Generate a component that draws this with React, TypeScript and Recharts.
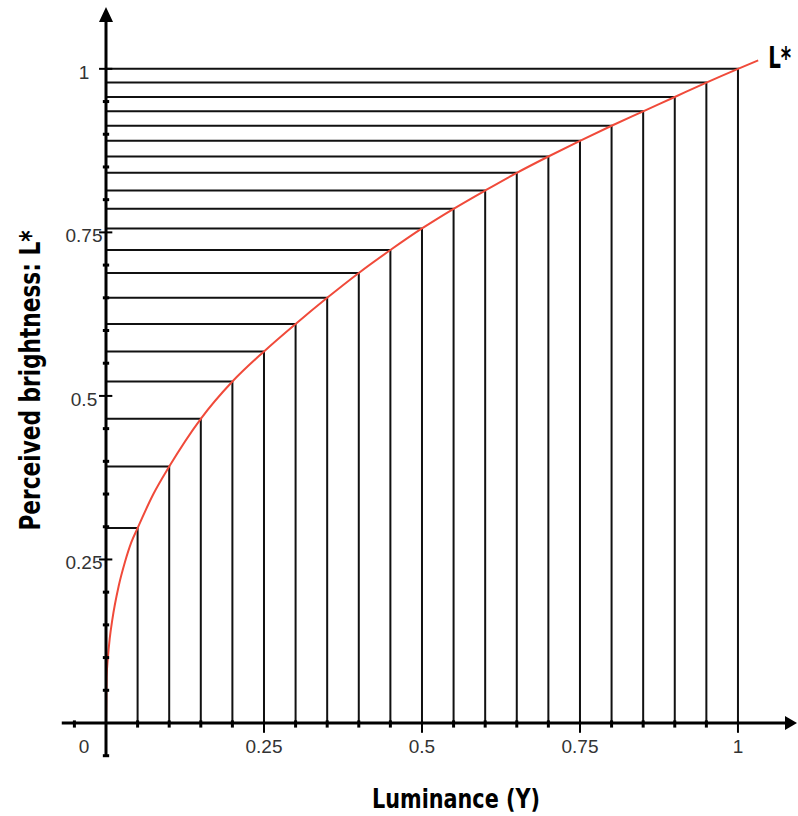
import { LineChart, Line, XAxis, YAxis, ReferenceLine, ReferenceDot, Label } from 'recharts'

const STEP_X = [0.05, 0.1, 0.15, 0.2, 0.25, 0.3, 0.35, 0.4, 0.45, 0.5, 0.55, 0.6, 0.65, 0.7, 0.75, 0.8, 0.85, 0.9, 0.95, 1]
const STEP_Y = [0.298, 0.392, 0.465, 0.522, 0.568, 0.61, 0.65, 0.688, 0.723, 0.756, 0.786, 0.814, 0.841, 0.866, 0.89, 0.913, 0.935, 0.957, 0.979, 1]

// the red L* curve, denser near zero where it rises steeply
const CURVE_X = [0, 0.001, 0.003, 0.006, 0.01, 0.02, 0.03, 0.04, 0.05, 0.075, 0.1, 0.15, 0.2, 0.25, 0.3, 0.35, 0.4, 0.45, 0.5, 0.55, 0.6, 0.65, 0.7, 0.75, 0.8, 0.85, 0.9, 0.95, 1, 1.032]
const CURVE_Y = [0, 0.07, 0.1, 0.13, 0.158, 0.209, 0.246, 0.276, 0.298, 0.35, 0.392, 0.465, 0.522, 0.568, 0.61, 0.65, 0.688, 0.723, 0.756, 0.786, 0.814, 0.841, 0.866, 0.89, 0.913, 0.935, 0.957, 0.979, 1, 1.013]

const X_LABELS = [0, 0.25, 0.5, 0.75, 1]
const Y_LABELS = [0.25, 0.5, 0.75, 1]
const X_MAJOR = [0.25, 0.5, 0.75, 1]
const X_MINOR = [-0.05, 0.05, 0.1, 0.15, 0.2, 0.3, 0.35, 0.4, 0.45, 0.55, 0.6, 0.65, 0.7, 0.8, 0.85, 0.9, 0.95]
const Y_MAJOR = [0.25, 0.5, 0.75, 1]
const Y_MINOR = [-0.05, 0.05, 0.1, 0.15, 0.2, 0.3, 0.35, 0.4, 0.45, 0.55, 0.6, 0.65, 0.7, 0.8, 0.85, 0.9, 0.95]

const X_MAX = 1.095
const Y_MAX = 1.093

const TITLE_FONT = "'Liberation Sans Narrow', 'DejaVu Sans Condensed', 'Liberation Sans', sans-serif"
const TICK_FONT = "'Liberation Sans', Arial, sans-serif"
const RED = '#f04a3a'

const curveData = CURVE_X.map((x, i) => ({ x, y: CURVE_Y[i] }))
const stepData = STEP_X.map((x, i) => [
  { x: 0, y: STEP_Y[i] },
  { x, y: STEP_Y[i] },
  { x, y: 0 },
])

function XTick(p: any) {
  const v = p.payload.value
  return (
    <text x={p.x + (v === 0 ? -22 : 0)} y={p.y + 28} textAnchor="middle" fontSize={19} fontFamily={TICK_FONT} fill="#333">
      {v}
    </text>
  )
}

function YTick(p: any) {
  return (
    <text x={p.x - 20} y={p.y + 10} textAnchor="middle" fontSize={19} fontFamily={TICK_FONT} fill="#333">
      {p.payload.value}
    </text>
  )
}

function XTitle({ viewBox }: any) {
  const { x, y, width } = viewBox
  return (
    <text x={x + width / 2 + 4} y={y + 85} textAnchor="middle" fontSize={27} fontWeight="bold" fontFamily={TITLE_FONT}
      textLength={168} lengthAdjust="spacingAndGlyphs" fill="#000">
      Luminance (Y)
    </text>
  )
}

function YTitle({ viewBox }: any) {
  const { y, height } = viewBox
  const cx = 40
  const cy = y + height / 2 + 15
  return (
    <text x={cx} y={cy} transform={`rotate(-90, ${cx}, ${cy})`} textAnchor="middle" fontSize={28} fontWeight="bold"
      fontFamily={TITLE_FONT} textLength={300} lengthAdjust="spacingAndGlyphs" fill="#000">
      Perceived brightness: L*
    </text>
  )
}

function CurveName({ viewBox }: any) {
  const { x, y } = viewBox
  return (
    <text x={x + 11} y={y + 9} fontSize={31} fontWeight="bold" fontFamily={TITLE_FONT}
      textLength={23} lengthAdjust="spacingAndGlyphs" fill="#000">
      L*
    </text>
  )
}

const UpArrow = (p: any) => (
  <polygon points={`${p.cx},${p.cy - 1} ${p.cx - 7},${p.cy + 14} ${p.cx + 7},${p.cy + 14}`} fill="#000" />
)
const RightArrow = (p: any) => (
  <polygon points={`${p.cx - 1},${p.cy} ${p.cx - 13},${p.cy - 7} ${p.cx - 13},${p.cy + 7}`} fill="#000" />
)

export default function App() {
  return (
    <div style={{ position: 'absolute', left: 0, top: 0 }}>
      <LineChart width={798} height={816} margin={{ top: 8, right: 0, bottom: 0, left: 0 }}>
        <XAxis
          type="number"
          dataKey="x"
          domain={[0, X_MAX]}
          allowDataOverflow
          ticks={X_LABELS}
          axisLine={false}
          tickLine={false}
          tickSize={0}
          height={93}
          tick={XTick}
        >
          <Label content={(props: any) => <XTitle {...props} />} />
        </XAxis>
        <YAxis
          type="number"
          dataKey="y"
          domain={[0, Y_MAX]}
          allowDataOverflow
          ticks={Y_LABELS}
          axisLine={false}
          tickLine={false}
          tickSize={0}
          width={106}
          tick={YTick}
        >
          <Label content={(props: any) => <YTitle {...props} />} />
        </YAxis>

        {stepData.map((d, i) => (
          <Line
            key={`step-${i}`}
            data={d}
            dataKey="y"
            type="linear"
            stroke="#111"
            strokeWidth={2}
            dot={false}
            activeDot={false}
            isAnimationActive={false}
          />
        ))}

        <Line
          data={curveData}
          dataKey="y"
          type="monotone"
          stroke={RED}
          strokeWidth={2}
          dot={false}
          activeDot={false}
          isAnimationActive={false}
        />

        <ReferenceLine segment={[{ x: 0, y: -0.052 }, { x: 0, y: 1.08 }]} stroke="#000" strokeWidth={3} ifOverflow="visible" />
        <ReferenceLine segment={[{ x: -0.07, y: 0 }, { x: 1.08, y: 0 }]} stroke="#000" strokeWidth={3} ifOverflow="visible" />

        {Y_MINOR.map((v) => (
          <ReferenceLine key={`ym-${v}`} segment={[{ x: -0.005, y: v }, { x: 0.005, y: v }]} stroke="#000" strokeWidth={3} ifOverflow="visible" />
        ))}
        {Y_MAJOR.map((v) => (
          <ReferenceLine key={`yM-${v}`} segment={[{ x: -0.011, y: v }, { x: 0.01, y: v }]} stroke="#000" strokeWidth={2} ifOverflow="visible" />
        ))}
        {X_MINOR.map((v) => (
          <ReferenceLine key={`xm-${v}`} segment={[{ x: v, y: 0.004 }, { x: v, y: -0.007 }]} stroke="#000" strokeWidth={3} ifOverflow="visible" />
        ))}
        {X_MAJOR.map((v) => (
          <ReferenceLine key={`xM-${v}`} segment={[{ x: v, y: 0.004 }, { x: v, y: -0.015 }]} stroke="#000" strokeWidth={2} ifOverflow="visible" />
        ))}

        <ReferenceDot x={0} y={Y_MAX} r={1} shape={UpArrow} ifOverflow="visible" />
        <ReferenceDot x={X_MAX} y={0} r={1} shape={RightArrow} ifOverflow="visible" />
        <ReferenceDot
          x={CURVE_X[CURVE_X.length - 1]}
          y={CURVE_Y[CURVE_Y.length - 1]}
          r={1}
          fill="none"
          stroke="none"
          ifOverflow="visible"
          label={(props: any) => <CurveName {...props} />}
        />
      </LineChart>
    </div>
  )
}
